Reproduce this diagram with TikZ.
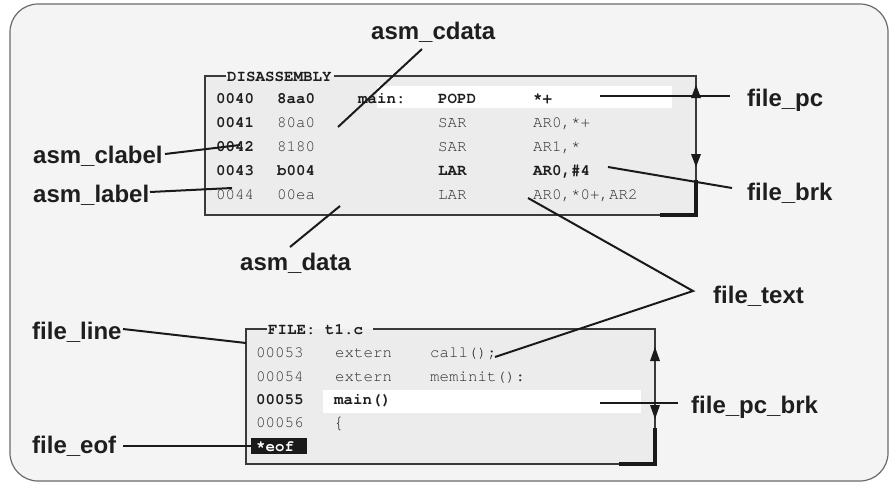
\documentclass[tikz,border=0pt]{standalone}
\usepackage{fontspec}
\newfontfamily\lblfont{Liberation Sans}
\newfontfamily\monofont{TeX Gyre Cursor}
\definecolor{bgout}{HTML}{F4F4F4}
\definecolor{boxfill}{HTML}{ECECEC}
\definecolor{outline}{HTML}{6A6A6A}
\definecolor{boxline}{HTML}{3A3A3A}
\definecolor{lbltext}{HTML}{1E1E1E}
\definecolor{monogray}{HTML}{2E2E2E}
\definecolor{monodark}{HTML}{1E1E1E}
\definecolor{leadcol}{HTML}{1A1A1A}
\begin{document}
\begin{tikzpicture}[x=1pt,y=-1pt,
  lbl/.style={anchor=base west, inner sep=0pt, font=\lblfont\bfseries\fontsize{24}{24}\selectfont, text=lbltext},
  mn/.style={anchor=base west, inner sep=0pt, font=\monofont\fontsize{15.8}{15.8}\selectfont, text=monogray},
  mb/.style={anchor=base west, inner sep=0pt, font=\monofont\bfseries\fontsize{15.8}{15.8}\selectfont, text=monodark},
  lead/.style={draw=leadcol, line width=2pt},
  frame/.style={draw=boxline, line width=1.5pt},
  thickL/.style={draw=leadcol, line width=4pt, line join=miter},
  head/.style={fill=leadcol, draw=none}
  ]
\useasboundingbox (0,0) rectangle (893,482);
% outer panel
\draw[fill=bgout, draw=outline, line width=1.2pt, rounded corners=28pt] (10,4) rectangle (888,481);

% ---------- DISASSEMBLY box ----------
\fill[boxfill] (205,76) rectangle (696,215);
\fill[white] (377,86) rectangle (672,108);
\draw[frame] (226,76) -- (205,76) -- (205,215) -- (696,215) -- (696,76) -- (334,76);
\node[mb] (dtitle) at (227,81) {DISASSEMBLY};
% arrowheads and thick corner
\fill[head] (696,85) -- (701,98) -- (691,98) -- cycle;
\fill[head] (691,154) -- (701,154) -- (696,167) -- cycle;
\draw[thickL] (696,180) -- (696,215) -- (660,215);

% rows
\node[mb] (a0) at (216,103) {0040};
\node[mb] (b0) at (277,103) {8aa0};
\node[mb] (c0) at (358,103) {main:};
\node[mb] (d0) at (438,103) {POPD};
\node[mb] (e0) at (533,103) {*+};

\node[mb] (a1) at (216,127) {0041};
\node[mn] (b1) at (277,127) {80a0};
\node[mn] (d1) at (438,127) {SAR};
\node[mn] (e1) at (533,127) {AR0,*+};

\node[mb] (a2) at (216,151) {0042};
\node[mn] (b2) at (277,151) {8180};
\node[mn] (d2) at (438,151) {SAR};
\node[mn] (e2) at (533,151) {AR1,*};

\node[mb] (a3) at (216,175) {0043};
\node[mb] (b3) at (277,175) {b004};
\node[mb] (d3) at (438,175) {LAR};
\node[mb] (e3) at (533,175) {AR0,\#4};

\node[mn] (a4) at (216,199) {0044};
\node[mn] (b4) at (277,199) {00ea};
\node[mn] (d4) at (438,199) {LAR};
\node[mn] (e4) at (533,199) {AR0,*0+,AR2};

% ---------- FILE box ----------
\fill[boxfill] (246,329) rectangle (655,464);
\fill[white] (323,390) rectangle (641,413);
\draw[frame] (267,329) -- (246,329) -- (246,464) -- (655,464) -- (655,329) -- (373,329);
\node[mb] (ftitle) at (268,334) {FILE: t1.c};
\fill[head] (655,347) -- (660,361) -- (650,361) -- cycle;
\fill[head] (650,405) -- (660,405) -- (655,419) -- cycle;
\draw[thickL] (655,428) -- (655,464) -- (619,464);

\node[mn] (f0) at (256,357) {00053};
\node[mn] (g0) at (335,357) {extern};
\node[mn] (h0) at (430,357) {call();};
\node[mn] (f1) at (256,381) {00054};
\node[mn] (g1) at (335,381) {extern};
\node[mn] (h1) at (430,381) {meminit():};
\node[mb] (f2) at (256,404) {00055};
\node[mb] (g2) at (334,404) {main()};
\node[mn] (f3) at (256,427) {00056};
\node[mn, font=\monofont\fontsize{19}{19}\selectfont] (g3) at (333,428) {\{};
\fill[leadcol] (251,438) rectangle (307,454);
\node[mb, text=white] (eof) at (256,451) {*eof};

% ---------- labels ----------
\node[lbl] (Lcdata)  at (371,39)  {asm\_cdata};
\node[lbl] (Lclabel) at (33,163)  {asm\_clabel};
\node[lbl] (Llabel)  at (33,202)  {asm\_label};
\node[lbl] (Ldata)   at (240,270) {asm\_data};
\node[lbl] (Lpc)     at (747,106) {file\_pc};
\node[lbl] (Lbrk)    at (747,200) {file\_brk};
\node[lbl] (Ltext)   at (713,303) {file\_text};
\node[lbl] (Lpcbrk)  at (691,413) {file\_pc\_brk};
\node[lbl] (Lline)   at (32,339)  {file\_line};
\node[lbl] (Leof)    at (32,453)  {file\_eof};

% ---------- leader lines ----------
\coordinate (cdA) at (422,49);   \coordinate (cdB) at (338,127);
\coordinate (clA) at (165,154);  \coordinate (clB) at (240,145);
\coordinate (lbA) at (150,192);  \coordinate (lbB) at (232,188);
\coordinate (daA) at (290,247);  \coordinate (daB) at (340,206);
\coordinate (pcA) at (730,96);   \coordinate (pcB) at (600,96);
\coordinate (bkA) at (732,188);  \coordinate (bkB) at (608,167);
\coordinate (txV) at (693,291);  \coordinate (txB) at (528,198);  \coordinate (txC) at (495,357);
\coordinate (pbA) at (678,403);  \coordinate (pbB) at (600,403);
\coordinate (flA) at (123,329);  \coordinate (flB) at (246,343);
\coordinate (feA) at (123,446);  \coordinate (feB) at (251,446);

\draw[lead] (cdA) -- (cdB);
\draw[lead] (clA) -- (clB);
\draw[lead] (lbA) -- (lbB);
\draw[lead] (daA) -- (daB);
\draw[lead] (pcA) -- (pcB);
\draw[lead] (bkA) -- (bkB);
\draw[lead] (txB) -- (txV) -- (txC);
\draw[lead] (pbA) -- (pbB);
\draw[lead] (flA) -- (flB);
\draw[lead] (feA) -- (feB);
\end{tikzpicture}
\end{document}
